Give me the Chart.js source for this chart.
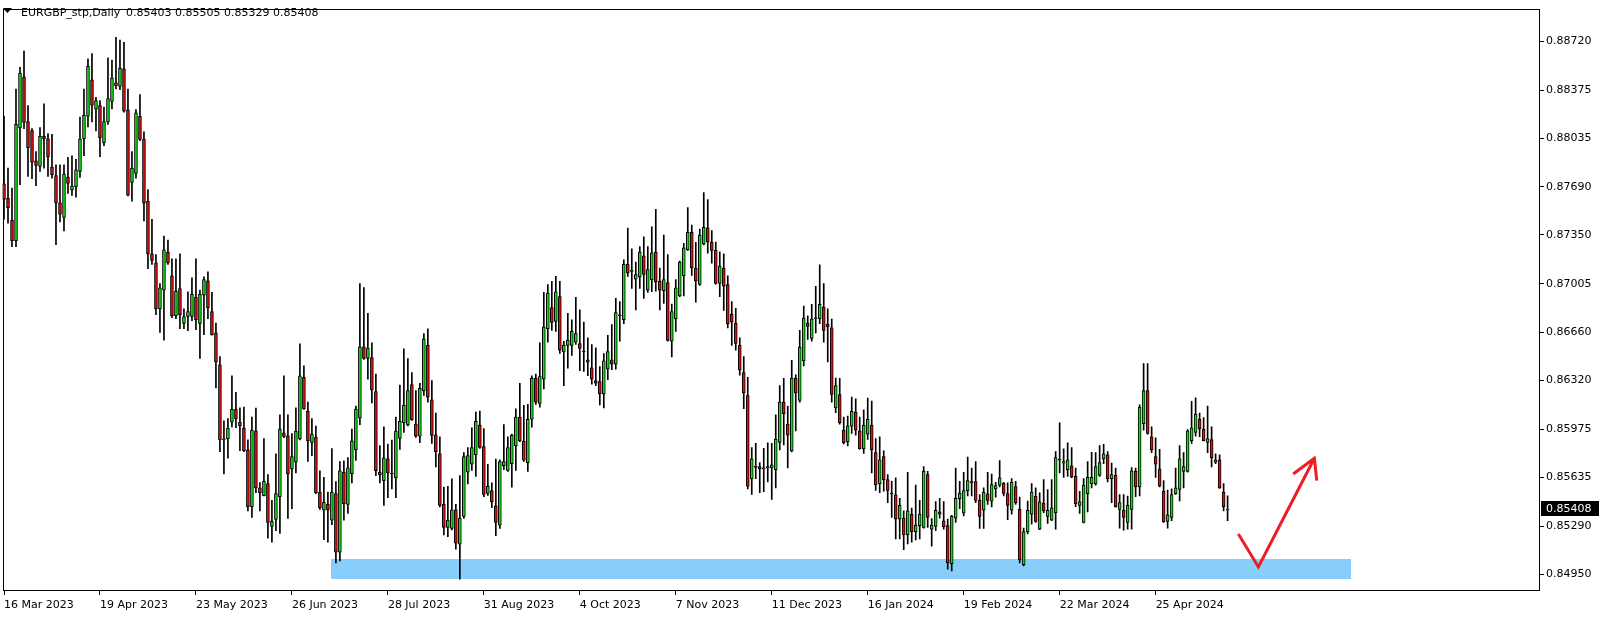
<!DOCTYPE html>
<html>
<head>
<meta charset="utf-8">
<script src="https://cdn.jsdelivr.net/npm/chart.js@4.4.1/dist/chart.umd.min.js"></script>
<style>
html,body{margin:0;padding:0;background:#ffffff;overflow:hidden;}
#wrap{width:1604px;height:617px;position:relative;}
canvas{display:block;}
</style>
</head>
<body>
<div id="wrap"><canvas id="c" width="1604" height="617" style="width:1604px;height:617px"></canvas></div>
<script>
// ---------- data ----------
const symbolTitle = 'EURGBP_stp,Daily';
const tickLabels = ['16 Mar 2023','19 Apr 2023','23 May 2023','26 Jun 2023','28 Jul 2023','31 Aug 2023','4 Oct 2023','7 Nov 2023','11 Dec 2023','16 Jan 2024','19 Feb 2024','22 Mar 2024','25 Apr 2024'];
const tickBars = [0,24,48,72,96,120,144,168,192,216,240,264,288];
const priceTicks = [0.88720,0.88375,0.88035,0.87690,0.87350,0.87005,0.86660,0.86320,0.85975,0.85635,0.85290,0.84950];

const opens = [
.87711,.87608,.87454,.87309,.88107,.88468,.88151,.88088,.87874,.87834,
.88048,.88030,.87829,.87769,.87577,.87473,.87759,.87666,.87689,.87799,
.88030,.88190,.88447,.88239,.88265,.88002,.88149,.88295,.88426,.88400,
.88524,.88235,.87722,.87785,.88188,.88027,.87587,.87216,.87153,.86827,
.86959,.87228,.87060,.86778,.86971,.86724,.86773,.86773,.86908,.86724,
.86924,.87025,.86808,.86657,.86431,.85901,.85906,.86025,.86116,.86025,
.85983,.85829,.85428,.85964,.85561,.85505,.85591,.85288,.85337,.85498,
.85950,.85929,.85694,.85743,.85906,.86342,.86102,.85882,.85920,.85530,
.85402,.85444,.85332,.85521,.85106,.85670,.85444,.85661,.85829,.86055,
.86559,.86477,.86482,.86242,.85670,.85612,.85766,.85666,.85631,.85910,
.86022,.86008,.86291,.86011,.85927,.86246,.86571,.86183,.85936,.85801,
.85444,.85281,.85274,.85405,.85162,.85358,.85672,.85728,.85794,.86004,
.85852,.85521,.85542,.85433,.85297,.85717,.85684,.85731,.85857,.86062,
.85892,.85738,.86046,.86335,.86158,.86330,.86687,.86836,.86738,.86913,
.86522,.86568,.86568,.86592,.86582,.86527,.86466,.86410,.86319,.86312,
.86225,.86400,.86466,.86435,.86782,.86750,.87141,.87092,.87036,.87053,
.87202,.86959,.87034,.87228,.87022,.86955,.87013,.86598,.86757,.86918,
.87060,.87246,.87368,.87116,.86999,.87286,.87400,.87300,.87240,.87006,
.87116,.86999,.86789,.86726,.86571,.86377,.86214,.85624,.85710,.85712,
.85703,.85701,.85701,.85689,.85882,.86167,.86011,.85822,.86337,.86179,
.86459,.86726,.86617,.86757,.86757,.86838,.86720,.86692,.86127,.86221,
.85969,.85887,.85997,.86097,.85964,.85836,.85941,.86004,.85810,.85591,
.85782,.85619,.85521,.85512,.85340,.85347,.85228,.85375,.85251,.85293,
.85281,.85654,.85269,.85288,.85391,.85328,.85293,.85025,.85347,.85484,
.85381,.85540,.85605,.85605,.85472,.85402,.85519,.85467,.85554,.85579,
.85593,.85521,.85402,.85570,.85409,.85018,.85251,.85375,.85500,.85269,
.85451,.85358,.85332,.85386,.85762,.85736,.85689,.85717,.85642,.85437,
.85316,.85519,.85589,.85589,.85649,.85766,.85794,.85626,.85649,.85409,
.85402,.85316,.85409,.85677,.85568,.86015,.86249,.85922,.85782,.85696,
.85537,.85323,.85351,.85519,.85549,.85677,.85677,.85894,.85952,.86046,
.85976,.85882,.85903,.85743,.85759,.85531,.85403];

const highs = [
.88190,.87822,.87682,.88382,.88536,.88650,.88265,.88102,.87939,.88109,
.88277,.88067,.88062,.87846,.87846,.87846,.87899,.87909,.87885,.88183,
.88382,.88596,.88633,.88323,.88300,.88254,.88603,.88587,.88748,.88728,
.88713,.88382,.87939,.88237,.88342,.88079,.87671,.87461,.87211,.87006,
.87342,.87314,.87181,.87181,.87216,.86827,.86948,.87046,.87181,.86959,
.87053,.87088,.86943,.86726,.86489,.86034,.86050,.86354,.86237,.86127,
.86132,.85901,.86062,.86125,.85598,.85910,.85654,.85472,.85801,.86078,
.86354,.86078,.85945,.86127,.86580,.86424,.86167,.86050,.85997,.85682,
.85635,.85531,.85838,.85605,.85747,.85752,.85775,.85976,.86139,.87006,
.86978,.86796,.86587,.86365,.85859,.85992,.85871,.85899,.86062,.86288,
.86545,.86475,.86377,.86249,.86300,.86652,.86685,.86319,.86090,.85922,
.85566,.85572,.85624,.85444,.85647,.85810,.85845,.85985,.86097,.86104,
.85980,.85728,.85596,.85764,.85759,.86008,.85922,.85941,.86120,.86300,
.86144,.86151,.86354,.86365,.86587,.86943,.86999,.87022,.87057,.87022,
.86598,.86796,.86750,.86908,.86820,.86733,.86622,.86575,.86552,.86419,
.86510,.86640,.86715,.86901,.86878,.87174,.87398,.87251,.87158,.87267,
.87337,.87267,.87407,.87531,.87116,.87349,.87211,.86861,.87034,.87165,
.87291,.87543,.87419,.87298,.87391,.87650,.87600,.87380,.87300,.87230,
.87216,.87060,.86878,.86831,.86622,.86489,.86342,.85845,.85875,.85740,
.85840,.85880,.85875,.86078,.86284,.86335,.86139,.86463,.86361,.86675,
.86847,.86778,.86859,.86987,.87139,.87006,.86827,.86755,.86337,.86335,
.86062,.86069,.86202,.86190,.86062,.86113,.86195,.86174,.85910,.85922,
.85822,.85654,.85607,.85631,.85486,.85398,.85670,.85417,.85580,.85472,
.85712,.85677,.85344,.85463,.85486,.85463,.85340,.85367,.85701,.85607,
.85670,.85778,.85701,.85747,.85514,.85561,.85670,.85659,.85600,.85754,
.85600,.85596,.85626,.85607,.85495,.85276,.85467,.85591,.85561,.85526,
.85619,.85549,.85619,.85817,.86020,.85836,.85880,.85845,.85701,.85537,
.85626,.85747,.85812,.85810,.85859,.85868,.85817,.85736,.85701,.85514,
.85514,.85503,.85705,.85701,.86148,.86440,.86440,.85992,.85915,.85833,
.85612,.85545,.85554,.85701,.85859,.85810,.85973,.86172,.86197,.86090,
.86057,.86139,.85992,.85801,.85794,.85591,.85505];

const lows = [
.87461,.87433,.87267,.87267,.87706,.88102,.87764,.87748,.87699,.87799,
.87822,.87764,.87752,.87281,.87442,.87379,.87643,.87629,.87617,.87757,
.87911,.88114,.88149,.88086,.87904,.87981,.88132,.88242,.88382,.88377,
.88218,.87625,.87589,.87752,.88016,.87449,.87111,.87141,.86785,.86661,
.86605,.87141,.86764,.86757,.86687,.86687,.86673,.86743,.86680,.86477,
.86645,.86757,.86640,.86267,.85817,.85659,.85770,.85992,.85987,.85824,
.85817,.85398,.85351,.85526,.85398,.85503,.85204,.85176,.85258,.85239,
.85915,.85344,.85414,.85666,.85900,.86115,.85747,.85789,.85520,.85409,
.85195,.85176,.85300,.85029,.85043,.85332,.85379,.85596,.85754,.86008,
.86470,.86330,.86162,.85647,.85596,.85437,.85491,.85554,.85491,.85833,
.85952,.85999,.86038,.85917,.85880,.86214,.86167,.85875,.85708,.85426,
.85228,.85216,.85263,.85127,.84915,.85344,.85589,.85684,.85642,.85840,
.85498,.85507,.85421,.85223,.85274,.85689,.85677,.85566,.85684,.85887,
.85747,.85677,.85990,.86151,.86132,.86260,.86592,.86675,.86668,.86512,
.86284,.86407,.86498,.86575,.86389,.86384,.86354,.86295,.86284,.86148,
.86127,.86326,.86396,.86400,.86598,.86722,.87057,.86971,.86820,.86971,
.86901,.86943,.86948,.86952,.86820,.86866,.86598,.86487,.86668,.86913,
.86918,.87240,.87064,.86875,.86992,.87280,.87220,.87150,.87001,.86913,
.86815,.86692,.86568,.86535,.86358,.86120,.85554,.85514,.85626,.85526,
.85533,.85603,.85479,.85561,.85829,.85864,.85701,.85815,.85964,.86167,
.86424,.86610,.86598,.86657,.86722,.86592,.86452,.86167,.86092,.86011,
.85871,.85857,.85945,.85934,.85834,.85805,.85903,.85666,.85542,.85526,
.85537,.85456,.85351,.85200,.85200,.85123,.85165,.85176,.85193,.85200,
.85276,.85281,.85148,.85258,.85347,.85269,.84985,.84973,.85316,.85414,
.85363,.85503,.85503,.85456,.85274,.85274,.85444,.85426,.85495,.85568,
.85503,.85335,.85375,.85444,.85029,.85008,.85234,.85304,.85316,.85265,
.85386,.85309,.85328,.85269,.85666,.85635,.85642,.85631,.85428,.85379,
.85312,.85391,.85561,.85580,.85642,.85731,.85603,.85456,.85424,.85276,
.85262,.85269,.85269,.85498,.85503,.85969,.85941,.85810,.85635,.85568,
.85316,.85276,.85328,.85514,.85468,.85561,.85672,.85875,.85927,.85922,
.85892,.85810,.85708,.85731,.85556,.85398,.85329];

const closes = [
.87601,.87543,.87309,.88132,.88494,.88146,.87967,.87864,.87841,.88048,
.88030,.87904,.87776,.87577,.87496,.87780,.87715,.87696,.87811,.88027,
.88195,.88543,.88268,.88300,.88037,.88151,.88314,.88461,.88405,.88529,
.88225,.87631,.87822,.88214,.88025,.87575,.87216,.87169,.86827,.86976,
.87244,.87151,.86778,.86950,.86785,.86773,.86808,.86929,.86750,.86929,
.87034,.86834,.86645,.86452,.85899,.85906,.85983,.86116,.86050,.86001,
.85824,.85428,.85969,.85561,.85526,.85607,.85316,.85325,.85521,.85976,
.85924,.85659,.85782,.85962,.86354,.86120,.85894,.85941,.85526,.85421,
.85458,.85405,.85531,.85106,.85682,.85449,.85703,.85894,.86118,.86559,
.86477,.86550,.86253,.85682,.85654,.85773,.85666,.85659,.85962,.86032,
.86144,.86249,.86043,.85927,.86265,.86615,.86202,.85931,.85817,.85437,
.85281,.85333,.85405,.85169,.85347,.85782,.85789,.85845,.86032,.85847,
.85514,.85572,.85463,.85316,.85747,.85747,.85845,.85934,.86062,.85892,
.85757,.86046,.86335,.86167,.86347,.86699,.86936,.86731,.86948,.86535,
.86571,.86606,.86668,.86652,.86547,.86522,.86449,.86330,.86302,.86225,
.86459,.86524,.86435,.86801,.86778,.87141,.87081,.87097,.87069,.87228,
.87071,.87104,.87223,.87018,.86959,.87034,.86603,.86808,.86976,.87158,
.87258,.87368,.87116,.87025,.87349,.87403,.87300,.87240,.87006,.87130,
.86987,.86722,.86733,.86582,.86393,.86232,.85572,.85766,.85706,.85694,
.85694,.85712,.85724,.85906,.86167,.86085,.85934,.86337,.86232,.86556,
.86761,.86703,.86755,.86760,.86859,.86675,.86699,.86221,.86284,.86022,
.85880,.85999,.86102,.85969,.85836,.86004,.86046,.85829,.85584,.85759,
.85619,.85542,.85517,.85340,.85437,.85228,.85398,.85251,.85298,.85375,
.85677,.85351,.85298,.85402,.85375,.85286,.85032,.85360,.85486,.85524,
.85542,.85612,.85598,.85472,.85358,.85531,.85472,.85584,.85577,.85631,
.85521,.85437,.85600,.85456,.85053,.85251,.85402,.85531,.85323,.85461,
.85398,.85402,.85420,.85775,.85757,.85747,.85759,.85638,.85449,.85461,
.85580,.85635,.85635,.85712,.85740,.85801,.85626,.85654,.85428,.85456,
.85351,.85437,.85682,.85568,.86132,.86249,.85945,.85829,.85728,.85572,
.85321,.85370,.85514,.85561,.85766,.85712,.85964,.85985,.86083,.85980,
.85894,.85910,.85775,.85759,.85561,.85428,.85408];

// drawn annotations (in bar-index / price units)
const zoneBars = [81.9, 336.9];
const zonePrices = [0.85055, 0.84915];
const arrowBars = [308.7, 313.7, 327.7];
const arrowPrices = [0.85235, 0.85001, 0.85770];
const arrowHeadBars = [322.4, 328.3];
const arrowHeadPrices = [0.85659, 0.85612];

// ---------- styles ----------
const UP = '#12dc12';
const DOWN = '#e01010';
const FONT = '"DejaVu Sans", Verdana, sans-serif';

const idx = opens.map((_, i) => i);
const last = opens.length - 1;

const overlay = {
  id: 'overlay',
  beforeDatasetsDraw(chart) {
    const {ctx, chartArea: a, scales: {x, y}} = chart;
    ctx.save();
    ctx.beginPath();
    ctx.rect(a.left, a.top, a.right - a.left, a.bottom - a.top);
    ctx.clip();
    const x0 = Math.round(x.getPixelForValue(zoneBars[0]));
    const x1 = Math.round(x.getPixelForValue(zoneBars[1]));
    const y0 = Math.round(y.getPixelForValue(zonePrices[0]));
    const y1 = Math.round(y.getPixelForValue(zonePrices[1]));
    ctx.fillStyle = '#87cefa';
    ctx.fillRect(x0, y0, x1 - x0, y1 - y0);
    ctx.restore();
    ctx.save();
    ctx.strokeStyle = '#000';
    ctx.lineWidth = 1;
    ctx.strokeRect(Math.round(a.left) + 0.5, Math.round(a.top) + 0.5,
                   Math.round(a.right - a.left) - 1, Math.round(a.bottom - a.top) - 1);
    ctx.restore();
  },
  afterDatasetsDraw(chart) {
    const {ctx, chartArea: a, scales: {x, y}} = chart;
    // red arrow
    ctx.save();
    ctx.strokeStyle = '#ee1c24';
    ctx.lineWidth = 3;
    ctx.lineJoin = 'miter';
    ctx.lineCap = 'butt';
    ctx.beginPath();
    arrowBars.forEach((b, i) => {
      const px = x.getPixelForValue(b), py = y.getPixelForValue(arrowPrices[i]);
      if (i === 0) ctx.moveTo(px, py); else ctx.lineTo(px, py);
    });
    ctx.stroke();
    const tx = x.getPixelForValue(arrowBars[2]), ty = y.getPixelForValue(arrowPrices[2]);
    ctx.beginPath();
    ctx.moveTo(x.getPixelForValue(arrowHeadBars[0]), y.getPixelForValue(arrowHeadPrices[0]));
    ctx.lineTo(tx, ty);
    ctx.lineTo(x.getPixelForValue(arrowHeadBars[1]), y.getPixelForValue(arrowHeadPrices[1]));
    ctx.stroke();
    ctx.restore();

    // title
    ctx.save();
    ctx.fillStyle = '#000';
    ctx.beginPath();
    ctx.moveTo(3, 8); ctx.lineTo(12, 8); ctx.lineTo(7.5, 13); ctx.closePath();
    ctx.fill();
    ctx.font = '11px ' + FONT;
    ctx.textBaseline = 'middle';
    ctx.textAlign = 'left';
    const ohlc = [opens[last], highs[last], lows[last], closes[last]].map(v => v.toFixed(5)).join(' ');
    ctx.fillText(symbolTitle, 21, 13.5);
    ctx.fillText(ohlc, 126, 13.5);
    ctx.restore();

    // current price box on the axis
    ctx.save();
    const py = Math.round(y.getPixelForValue(closes[last]));
    ctx.fillStyle = '#000';
    ctx.fillRect(a.right + 1, py - 8, 58, 15);
    ctx.fillStyle = '#fff';
    ctx.font = '11px ' + FONT;
    ctx.textBaseline = 'middle';
    ctx.fillText(closes[last].toFixed(5), a.right + 6, py);
    ctx.restore();
  }
};

new Chart(document.getElementById('c').getContext('2d'), {
  type: 'bar',
  data: {
    datasets: [
      {
        label: 'body',
        data: idx.map(i => ({x: i, y: [opens[i], closes[i]]})),
        backgroundColor: idx.map(i => closes[i] >= opens[i] ? UP : DOWN),
        borderColor: '#000000',
        borderWidth: 1,
        borderSkipped: false,
        barThickness: 3,
        minBarLength: 1,
        grouped: false,
        order: 0
      },
      {
        label: 'wick',
        data: idx.map(i => ({x: i, y: [lows[i], highs[i]]})),
        backgroundColor: '#000000',
        borderWidth: 0,
        barThickness: 1,
        grouped: false,
        order: 1
      }
    ]
  },
  options: {
    responsive: false,
    animation: false,
    devicePixelRatio: 1,
    layout: {padding: {left: 2, top: 2, right: 0, bottom: 0}},
    plugins: {legend: {display: false}, tooltip: {enabled: false}, title: {display: false}},
    scales: {
      x: {
        type: 'linear',
        min: -0.375,
        max: 384.125,
        offset: false,
        afterBuildTicks: s => { s.ticks = tickBars.map(v => ({value: v})); },
        afterFit: s => { s.height = 26; },
        ticks: {
          autoSkip: false, maxRotation: 0, minRotation: 0, align: 'start', padding: 4,
          color: '#000', font: {family: FONT, size: 11},
          callback: v => tickLabels[tickBars.indexOf(v)]
        },
        grid: {drawOnChartArea: false, drawTicks: true, tickLength: 4, color: '#000', offset: false},
        border: {display: false}
      },
      y: {
        type: 'linear',
        position: 'right',
        min: 0.848311,
        max: 0.889508,
        afterBuildTicks: s => { s.ticks = priceTicks.map(v => ({value: v})); },
        afterFit: s => { s.width = 64; },
        ticks: {
          padding: 2, color: '#000', font: {family: FONT, size: 11},
          callback: v => Number(v).toFixed(5)
        },
        grid: {drawOnChartArea: false, drawTicks: true, tickLength: 4, color: '#000'},
        border: {display: false}
      }
    }
  },
  plugins: [overlay]
});
</script>
</body>
</html>
